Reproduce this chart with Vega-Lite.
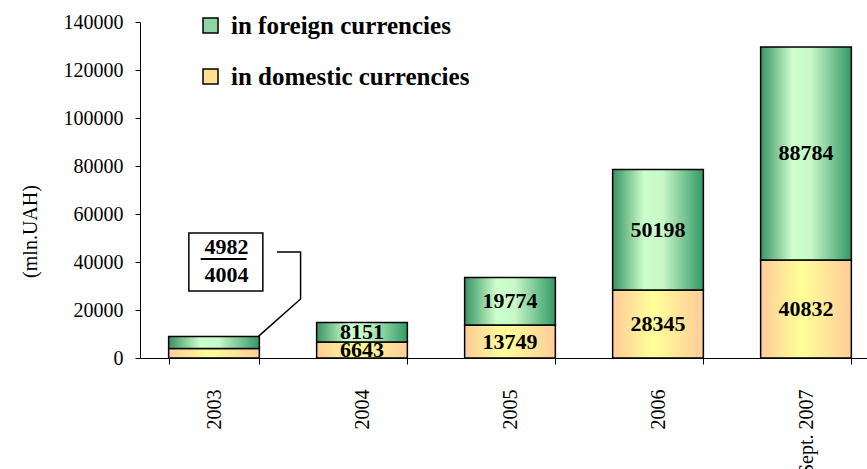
{
  "$schema": "https://vega.github.io/schema/vega-lite/v6.json",
  "width": 727,
  "height": 336,
  "autosize": "none",
  "padding": {"left": 140, "top": 22, "right": 0, "bottom": 111},
  "background": "white",
  "config": {
    "view": {"stroke": null},
    "font": "Liberation Serif"
  },
  "datasets": {
    "main": [
      {"year": "2003", "type": "in domestic currencies", "value": 4004},
      {"year": "2003", "type": "in foreign currencies", "value": 4982},
      {"year": "2004", "type": "in domestic currencies", "value": 6643},
      {"year": "2004", "type": "in foreign currencies", "value": 8151},
      {"year": "2005", "type": "in domestic currencies", "value": 13749},
      {"year": "2005", "type": "in foreign currencies", "value": 19774},
      {"year": "2006", "type": "in domestic currencies", "value": 28345},
      {"year": "2006", "type": "in foreign currencies", "value": 50198},
      {"year": "Sept. 2007", "type": "in domestic currencies", "value": 40832},
      {"year": "Sept. 2007", "type": "in foreign currencies", "value": 88784}
    ],
    "box": [{"x0": 0.33, "x1": 0.83, "y0": 27900, "y1": 52100}],
    "boxText": [
      {"xv": 0.585, "yv": 46400, "label": "4982"},
      {"xv": 0.585, "yv": 34700, "label": "4004"}
    ],
    "underline": [{"x0": 0.41, "x1": 0.72, "yv": 41200}],
    "connector": [
      {"step": 1, "xv": 0.8, "yv": 8986},
      {"step": 2, "xv": 1.085, "yv": 24600},
      {"step": 3, "xv": 1.085, "yv": 44200},
      {"step": 4, "xv": 0.925, "yv": 44200}
    ]
  },
  "resolve": {"scale": {"x": "independent"}},
  "layer": [
    {
      "data": {"name": "main"},
      "mark": {"type": "bar", "stroke": "black", "strokeWidth": 1.5},
      "encoding": {
        "x": {
          "field": "year", "type": "nominal", "sort": null,
          "scale": {"range": [0, 740], "paddingInner": 0.387, "paddingOuter": 0.1935},
          "axis": {
            "title": null, "labelAngle": 270, "labelAlign": "right", "labelBaseline": "middle",
            "labelFont": "Liberation Serif", "labelFontSize": 20, "labelColor": "black",
            "labelPadding": 25, "tickBand": "extent", "tickSize": 6, "tickColor": "black",
            "domainColor": "black", "domainWidth": 1, "labelOverlap": false
          }
        },
        "y": {
          "field": "value", "type": "quantitative", "stack": "zero",
          "scale": {"domain": [0, 140000], "nice": false},
          "axis": {
            "title": "(mln.UAH)", "values": [0, 20000, 40000, 60000, 80000, 100000, 120000, 140000],
            "format": "d", "grid": false, "labelFont": "Liberation Serif", "labelFontSize": 20,
            "labelColor": "black", "labelPadding": 12, "tickSize": 5, "tickColor": "black",
            "domainColor": "black", "titleFont": "Liberation Serif", "titleFontSize": 20,
            "titleFontWeight": "normal", "titleColor": "black", "titleAngle": 270,
            "titleAlign": "center", "titleBaseline": "middle", "titleX": -110, "titleY": 209
          }
        },
        "order": {"field": "type", "type": "nominal", "sort": "ascending"},
        "fill": {
          "field": "type", "type": "nominal",
          "condition": [
            {
              "test": "datum.type === 'in foreign currencies'",
              "value": {"gradient": "linear", "x1": 0, "y1": 0, "x2": 1, "y2": 0, "stops": [{"offset": 0, "color": "#3a9363"}, {"offset": 0.35, "color": "#ccffcc"}, {"offset": 0.55, "color": "#c8f8c8"}, {"offset": 1, "color": "#339966"}]}
            },
            {
              "test": "datum.type === 'in domestic currencies'",
              "value": {"gradient": "linear", "x1": 0, "y1": 0, "x2": 1, "y2": 0, "stops": [{"offset": 0, "color": "#ffcc99"}, {"offset": 0.45, "color": "#ffff99"}, {"offset": 1, "color": "#ffcc99"}]}
            }
          ],
          "scale": {"domain": ["in foreign currencies", "in domestic currencies"], "range": ["#8fd4a4", "#ffe08f"]},
          "legend": {
            "title": null, "orient": "none", "legendX": 58, "legendY": -9, "padding": 0,
            "symbolType": "square", "symbolSize": 225, "symbolStrokeColor": "black",
            "symbolStrokeWidth": 1.5, "symbolOpacity": 1,
            "labelFont": "Liberation Serif", "labelFontSize": 25, "labelFontWeight": "bold",
            "labelColor": "black", "labelOffset": 8, "rowPadding": 25, "labelLimit": 400,
            "encode": {
              "symbols": {
                "update": {
                  "stroke": {"value": "black"},
                  "strokeWidth": {"value": 1.5},
                  "fill": [
                    {"test": "datum.value === 'in foreign currencies'", "value": {"gradient": "linear", "x1": 0, "y1": 0, "x2": 1, "y2": 0, "stops": [{"offset": 0, "color": "#3a9363"}, {"offset": 0.45, "color": "#ccffcc"}, {"offset": 1, "color": "#339966"}]}},
                    {"value": {"gradient": "linear", "x1": 0, "y1": 0, "x2": 1, "y2": 0, "stops": [{"offset": 0, "color": "#ffcc99"}, {"offset": 0.45, "color": "#ffff99"}, {"offset": 1, "color": "#ffcc99"}]}}
                  ]
                }
              }
            }
          }
        }
      }
    },
    {
      "data": {"name": "main"},
      "transform": [{"filter": "datum.year !== '2003'"}],
      "mark": {"type": "text", "font": "Liberation Serif", "fontSize": 22, "fontWeight": "bold", "color": "black", "baseline": "middle", "align": "center"},
      "encoding": {
        "x": {"field": "year", "type": "nominal", "sort": null, "scale": {"domain": ["2003", "2004", "2005", "2006", "Sept. 2007"], "range": [0, 740], "paddingInner": 0.387, "paddingOuter": 0.1935}, "axis": null},
        "y": {"field": "value", "type": "quantitative", "stack": "zero", "bandPosition": 0.5},
        "detail": {"field": "type"},
        "order": {"field": "type", "type": "nominal", "sort": "ascending"},
        "text": {"field": "value", "type": "quantitative", "format": "d"}
      }
    },
    {
      "data": {"name": "box"},
      "mark": {"type": "rect", "fill": "white", "stroke": "black", "strokeWidth": 1.5},
      "encoding": {
        "x": {"field": "x0", "type": "quantitative", "scale": {"domain": [0, 5], "range": [0, 740], "nice": false, "zero": false}, "axis": null},
        "x2": {"field": "x1"},
        "y": {"field": "y0", "type": "quantitative"},
        "y2": {"field": "y1"}
      }
    },
    {
      "data": {"name": "boxText"},
      "mark": {"type": "text", "font": "Liberation Serif", "fontSize": 22, "fontWeight": "bold", "color": "black", "baseline": "middle", "align": "center"},
      "encoding": {
        "x": {"field": "xv", "type": "quantitative", "scale": {"domain": [0, 5], "range": [0, 740], "nice": false, "zero": false}, "axis": null},
        "y": {"field": "yv", "type": "quantitative"},
        "text": {"field": "label"}
      }
    },
    {
      "data": {"name": "underline"},
      "mark": {"type": "rule", "color": "black", "strokeWidth": 2},
      "encoding": {
        "x": {"field": "x0", "type": "quantitative", "scale": {"domain": [0, 5], "range": [0, 740], "nice": false, "zero": false}, "axis": null},
        "x2": {"field": "x1"},
        "y": {"field": "yv", "type": "quantitative"}
      }
    },
    {
      "data": {"name": "connector"},
      "mark": {"type": "line", "color": "black", "strokeWidth": 1.5},
      "encoding": {
        "x": {"field": "xv", "type": "quantitative", "scale": {"domain": [0, 5], "range": [0, 740], "nice": false, "zero": false}, "axis": null},
        "y": {"field": "yv", "type": "quantitative"},
        "order": {"field": "step", "type": "quantitative"}
      }
    }
  ]
}
